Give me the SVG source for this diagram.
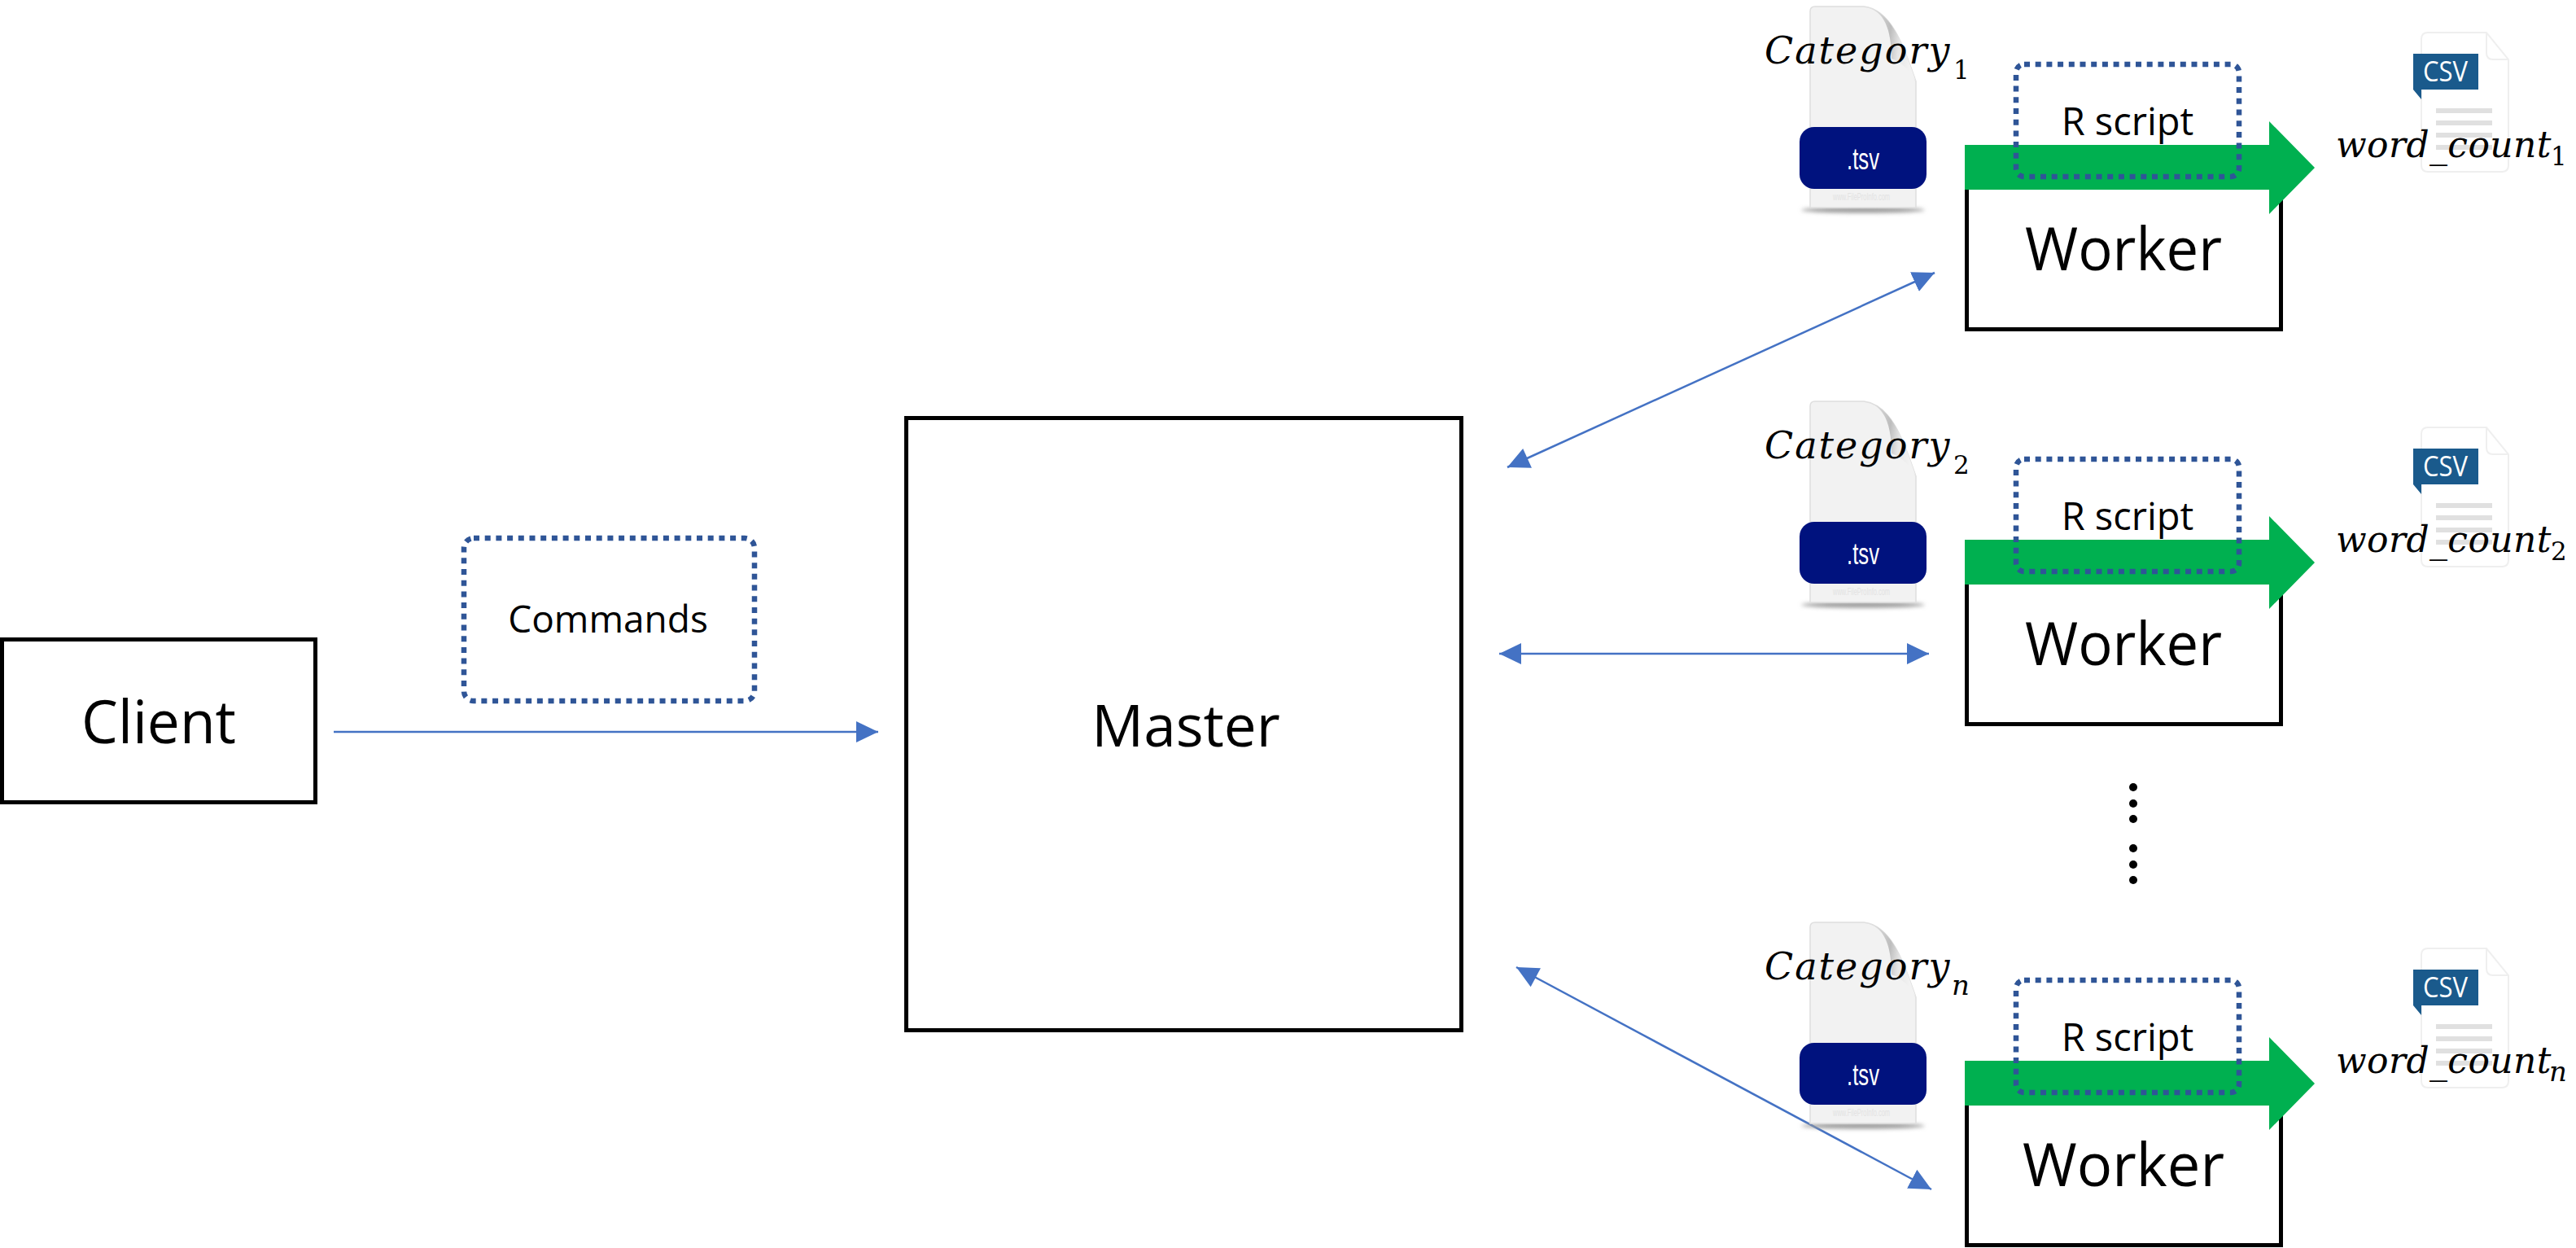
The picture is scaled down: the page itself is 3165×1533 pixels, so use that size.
<svg xmlns="http://www.w3.org/2000/svg" width="3165" height="1533" viewBox="0 0 3165 1533">
<style>
.box{fill:#fff;stroke:#000;stroke-width:5}
.dot{fill:none;stroke:#2F5597;stroke-width:6.5;stroke-dasharray:7 6.7}
.lbl{font-family:"Open Sans","Noto Sans",sans-serif;fill:#000;text-anchor:middle}
.big{font-size:73px}
.mid{font-size:47px}
.math{font-family:"DejaVu Serif",serif;font-style:italic;fill:#000}
.cat{font-size:46px;letter-spacing:2px}
.wc{font-size:44px;letter-spacing:0.4px}
.sub{font-size:31px;letter-spacing:0;font-style:normal}
.subn{font-size:34px;letter-spacing:0}
.conn{fill:none;stroke:#4472C4;stroke-width:2.5;marker-end:url(#ah)}
.both{marker-start:url(#ahs)}
.tsv{font-family:"Liberation Sans",Arial,sans-serif;font-size:36px;fill:#fff;text-anchor:middle}
.wm{font-family:"Liberation Sans",Arial,sans-serif;font-size:12px;fill:#e2e2e2;text-anchor:middle}
.csv{font-family:"Open Sans","Noto Sans",sans-serif;font-size:35px;fill:#fff;text-anchor:middle}
</style>
<defs>
<marker id="ah" markerUnits="userSpaceOnUse" markerWidth="30" markerHeight="28" refX="27" refY="13" orient="auto"><path d="M0,0L27,13L0,26Z" fill="#4472C4"/></marker>
<marker id="ahs" markerUnits="userSpaceOnUse" markerWidth="30" markerHeight="28" refX="0" refY="13" orient="auto"><path d="M27,0L0,13L27,26Z" fill="#4472C4"/></marker>
<linearGradient id="curl" x1="0" y1="0" x2="1" y2="0.2"><stop offset="0" stop-color="#f0f0f0"/><stop offset="0.55" stop-color="#bdbdbd"/><stop offset="0.75" stop-color="#e6e6e6"/><stop offset="1" stop-color="#f2f2f2"/></linearGradient>
<filter id="soft" x="-20%" y="-200%" width="140%" height="500%"><feGaussianBlur stdDeviation="2.5"/></filter>
<g id="tsv-page">
<ellipse cx="2289" cy="258" rx="76" ry="3.5" fill="#999" filter="url(#soft)"/>
<path d="M2224,14Q2224,8 2230,8H2290C2325,12 2340,60 2354,100V255H2224Z" fill="#f2f2f2" stroke="#dedede" stroke-width="1.5"/>
<path d="M2290,8C2316,12 2324,38 2324,72C2336,76 2348,88 2354,100C2340,60 2325,12 2290,8Z" fill="url(#curl)"/>
<rect x="2211" y="156" width="156" height="76" rx="18" fill="#00127E"/>
</g>
<g id="csv-page">
<path d="M2983,40H3055L3082,73V203Q3082,211 3074,211H2983Q2975,211 2975,203V48Q2975,40 2983,40Z" fill="#fff" stroke="#efefef" stroke-width="2"/>
<path d="M3055,40V65Q3055,73 3063,73H3082" fill="none" stroke="#efefef" stroke-width="2"/>
<path d="M2965,66H3045V110H2975V122L2965,110Z" fill="#1A5A8C"/>
<rect x="2993" y="133" width="69" height="6" fill="#e0e0e0"/>
<rect x="2993" y="148" width="69" height="6" fill="#e0e0e0"/>
<rect x="2993" y="163" width="69" height="6" fill="#e0e0e0"/>
<rect x="2993" y="178" width="69" height="6" fill="#e0e0e0"/>
</g>
<path id="green-arrow" fill="#00B050" d="M2414,178H2788V149L2844,206L2788,263V233H2414Z"/>
</defs>

<g id="connectors">
<path id="c-client-master" class="conn" d="M410,899H1079"/>
<path id="c-master-worker1" class="conn both" d="M1852,574L2377,335"/>
<path id="c-master-worker2" class="conn both" d="M1842,803H2370"/>
<path id="c-master-workern" class="conn both" d="M1863,1188L2373,1461"/>
</g>

<g id="client"><rect class="box" x="2.5" y="785.5" width="385" height="200"/><text class="lbl big" x="195" y="913" textLength="190" lengthAdjust="spacingAndGlyphs">Client</text></g>
<g id="commands"><rect class="dot" x="570" y="661" width="357" height="200" rx="12"/><text class="lbl" font-size="46" x="747" y="777">Commands</text></g>
<g id="master"><rect class="box" x="1113.5" y="513.5" width="682" height="752"/><text class="lbl" font-size="71" x="1457" y="917">Master</text></g>

<g id="worker-1">
<use href="#tsv-page"/>
<text class="tsv" x="2289" y="208" textLength="40" lengthAdjust="spacingAndGlyphs">.tsv</text><text class="wm" x="2287" y="246" textLength="70" lengthAdjust="spacingAndGlyphs">www.FileProInfo.com</text>
<text class="math cat" x="2168" y="78">Category<tspan class="sub" x="2400" y="97">1</tspan></text>
<rect class="box" x="2416.5" y="210" width="386" height="194.5"/>
<use href="#green-arrow"/>
<rect class="dot" x="2477" y="79" width="274" height="138" rx="10"/>
<text class="lbl mid" x="2614" y="166">R script</text>
<text class="lbl big" x="2609" y="332" textLength="242" lengthAdjust="spacingAndGlyphs">Worker</text>
<use href="#csv-page"/>
<text class="csv" x="3004.5" y="100" textLength="55" lengthAdjust="spacingAndGlyphs">CSV</text>
<text class="math wc" x="2870" y="193">word_count<tspan class="sub" x="3134" y="203">1</tspan></text>
</g>

<g id="worker-2" transform="translate(0,485)">
<use href="#tsv-page"/>
<text class="tsv" x="2289" y="208" textLength="40" lengthAdjust="spacingAndGlyphs">.tsv</text><text class="wm" x="2287" y="246" textLength="70" lengthAdjust="spacingAndGlyphs">www.FileProInfo.com</text>
<text class="math cat" x="2168" y="78">Category<tspan class="sub" x="2400" y="97">2</tspan></text>
<rect class="box" x="2416.5" y="210" width="386" height="194.5"/>
<use href="#green-arrow"/>
<rect class="dot" x="2477" y="79" width="274" height="138" rx="10"/>
<text class="lbl mid" x="2614" y="166">R script</text>
<text class="lbl big" x="2609" y="332" textLength="242" lengthAdjust="spacingAndGlyphs">Worker</text>
<use href="#csv-page"/>
<text class="csv" x="3004.5" y="100" textLength="55" lengthAdjust="spacingAndGlyphs">CSV</text>
<text class="math wc" x="2870" y="193">word_count<tspan class="sub" x="3134" y="203">2</tspan></text>
</g>

<g id="dots">
<circle cx="2621" cy="967" r="5"/><circle cx="2621" cy="987" r="5"/><circle cx="2621" cy="1006" r="5"/>
<circle cx="2621" cy="1042" r="5"/><circle cx="2621" cy="1062" r="5"/><circle cx="2621" cy="1081" r="5"/>
</g>

<g id="worker-n" transform="translate(0,1125)">
<use href="#tsv-page"/>
<text class="tsv" x="2289" y="208" textLength="40" lengthAdjust="spacingAndGlyphs">.tsv</text><text class="wm" x="2287" y="246" textLength="70" lengthAdjust="spacingAndGlyphs">www.FileProInfo.com</text>
<text class="math cat" x="2168" y="78">Category<tspan class="subn" x="2398" y="97">n</tspan></text>
<rect class="box" x="2416.5" y="210" width="386" height="194.5"/>
<use href="#green-arrow"/>
<rect class="dot" x="2477" y="79" width="274" height="138" rx="10"/>
<text class="lbl mid" x="2614" y="166">R script</text>
<text class="lbl big" x="2609" y="332" textLength="248" lengthAdjust="spacingAndGlyphs">Worker</text>
<use href="#csv-page"/>
<text class="csv" x="3004.5" y="100" textLength="55" lengthAdjust="spacingAndGlyphs">CSV</text>
<text class="math wc" x="2870" y="193">word_count<tspan class="subn" x="3132" y="203">n</tspan></text>
</g>
</svg>
